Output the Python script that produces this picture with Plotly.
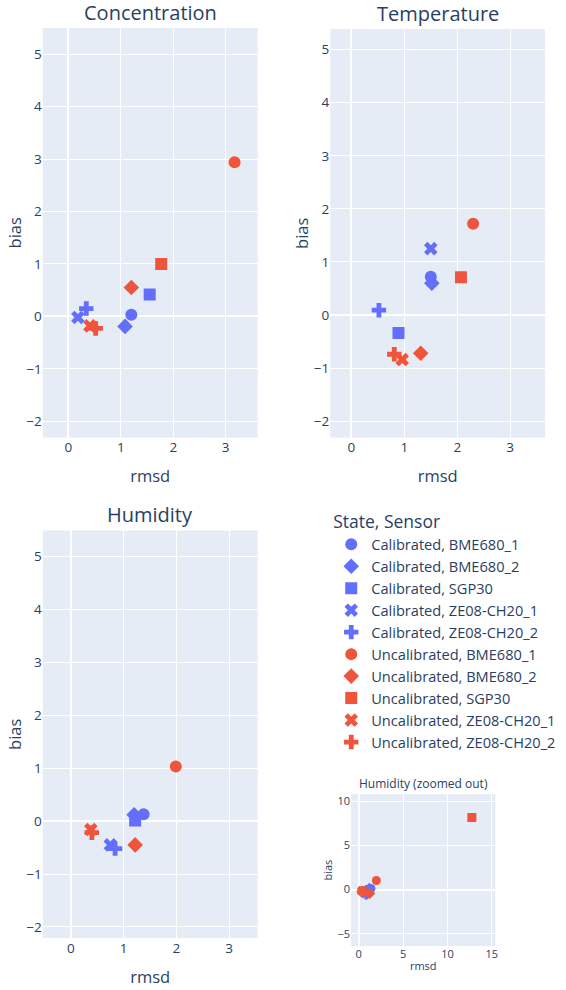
import plotly.graph_objects as go

# Sensors and the marker symbol each one is drawn with
sensors = ["BME680_1", "BME680_2", "SGP30", "ZE08-CH20_1", "ZE08-CH20_2"]
symbols = ["circle", "diamond", "square", "x", "cross"]
states = ["Calibrated", "Uncalibrated"]
state_colors = ["#636EFA", "#EF553B"]

# Concentration: rmsd / bias per sensor
conc_cal_rmsd = [1.20, 1.08, 1.55, 0.18, 0.34]
conc_cal_bias = [0.03, -0.19, 0.42, -0.02, 0.15]
conc_uncal_rmsd = [3.17, 1.20, 1.77, 0.41, 0.52]
conc_uncal_bias = [2.94, 0.55, 1.00, -0.18, -0.23]

# Temperature
temp_cal_rmsd = [1.50, 1.52, 0.89, 1.50, 0.52]
temp_cal_bias = [0.72, 0.60, -0.34, 1.25, 0.09]
temp_uncal_rmsd = [2.30, 1.31, 2.07, 0.96, 0.81]
temp_uncal_bias = [1.72, -0.72, 0.71, -0.84, -0.74]

# Humidity
hum_cal_rmsd = [1.38, 1.20, 1.22, 0.75, 0.84]
hum_cal_bias = [0.13, 0.12, 0.01, -0.45, -0.52]
hum_uncal_rmsd = [1.99, 1.22, 12.75, 0.38, 0.40]
hum_uncal_bias = [1.03, -0.45, 8.15, -0.16, -0.22]

panels = [
    ("Concentration", "x", "y", [(conc_cal_rmsd, conc_cal_bias), (conc_uncal_rmsd, conc_uncal_bias)], 12),
    ("Temperature", "x2", "y2", [(temp_cal_rmsd, temp_cal_bias), (temp_uncal_rmsd, temp_uncal_bias)], 12),
    ("Humidity", "x3", "y3", [(hum_cal_rmsd, hum_cal_bias), (hum_uncal_rmsd, hum_uncal_bias)], 12),
    ("Humidity (zoomed out)", "x4", "y4", [(hum_cal_rmsd, hum_cal_bias), (hum_uncal_rmsd, hum_uncal_bias)], 9),
]

fig = go.Figure()
for p, (title, xa, ya, series, msize) in enumerate(panels):
    for s, (rmsd, bias) in enumerate(series):
        for k, sensor in enumerate(sensors):
            name = f"{states[s]}, {sensor}"
            fig.add_trace(go.Scatter(
                x=[rmsd[k]], y=[bias[k]], mode="markers",
                name=name, legendgroup=name, showlegend=(p == 0),
                marker=dict(color=state_colors[s], symbol=symbols[k], size=msize),
                xaxis=xa, yaxis=ya,
            ))

W, H = 566, 990


def dx(a, b):
    return [a / W, b / W]


def dy(top, bottom):
    return [1 - bottom / H, 1 - top / H]


tick = dict(size=13.5)
ttl = dict(size=16.5)
small = dict(size=11)


def ytitle():
    return dict(text="bias", font=ttl, standoff=0)


def xtitle():
    return dict(text="rmsd", font=ttl)


fig.update_layout(
    width=W, height=H,
    margin=dict(l=0, r=0, t=0, b=0),
    template="plotly",
    font=dict(family="Open Sans, Verdana, Arial, sans-serif", color="#2a3f5f"),
    xaxis=dict(domain=dx(43, 259), range=[-0.49, 3.61], dtick=1, anchor="y",
               title=xtitle(), tickfont=tick),
    yaxis=dict(domain=dy(27, 437), range=[-2.31, 5.5], dtick=1, anchor="x",
               title=ytitle(), tickfont=tick),
    xaxis2=dict(domain=dx(332, 548), range=[-0.40, 3.66], dtick=1, anchor="y2",
                title=xtitle(), tickfont=tick),
    yaxis2=dict(domain=dy(28, 437), range=[-2.31, 5.39], dtick=1, anchor="x2",
                title=ytitle(), tickfont=tick),
    xaxis3=dict(domain=dx(43, 259), range=[-0.53, 3.54], dtick=1, anchor="y3",
                title=xtitle(), tickfont=tick),
    yaxis3=dict(domain=dy(530, 938), range=[-2.21, 5.49], dtick=1, anchor="x3",
                title=ytitle(), tickfont=tick),
    xaxis4=dict(domain=dx(353, 498), range=[-0.85, 15.4], dtick=5, anchor="y4",
                title=dict(text="rmsd", font=small, standoff=2), tickfont=small),
    yaxis4=dict(domain=dy(794, 946), range=[-6.4, 10.8], dtick=5, anchor="x4",
                title=dict(text="bias", font=small, standoff=2), tickfont=small),
    legend=dict(title=dict(text="State, Sensor", font=dict(size=17.5)), font=dict(size=14.6),
                x=333 / W, xanchor="left", y=1 - 505 / H, yanchor="top",
                tracegroupgap=0),
)

titles = [
    ("Concentration", (43 + 259) / 2, 27, 20),
    ("Temperature", (332 + 548) / 2, 28, 20),
    ("Humidity", (43 + 259) / 2, 530, 20),
    ("Humidity (zoomed out)", (353 + 498) / 2, 794, 12),
]
for text, cx, top, size in titles:
    fig.add_annotation(text=text, x=cx / W, y=1 - top / H, xref="paper", yref="paper",
                       xanchor="center", yanchor="bottom", showarrow=False,
                       font=dict(size=size))

fig.write_html("out.html")
